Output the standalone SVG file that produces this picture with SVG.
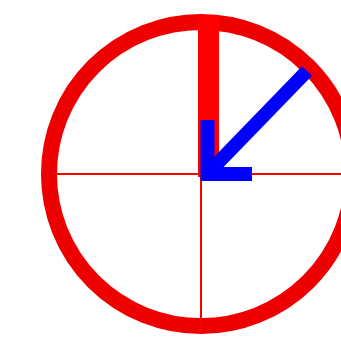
<svg xmlns="http://www.w3.org/2000/svg" width="341" height="357" viewBox="0 0 341 357">
<style>
.ring{fill:none;stroke:#e00;stroke-width:16}
.axis{stroke:#f00;stroke-width:2;fill:none}
.arrow{stroke:#00f;stroke-width:14;fill:none;stroke-linecap:butt;stroke-linejoin:miter}
</style>
<rect width="341" height="357" fill="#fff"/>
<g id="dial">
<circle class="ring" cx="201" cy="174" r="152"/>
<rect x="198" y="15" width="21" height="162" fill="#f00"/>
<line class="axis" x1="56" y1="174" x2="341" y2="174"/>
<line class="axis" x1="201" y1="30" x2="201" y2="333"/>
</g>
<g id="connectors">
<line class="arrow" x1="307" y1="71" x2="212" y2="169"/>
<polyline class="arrow" points="207.5,120 207.5,174 252,174"/>
</g>
</svg>
